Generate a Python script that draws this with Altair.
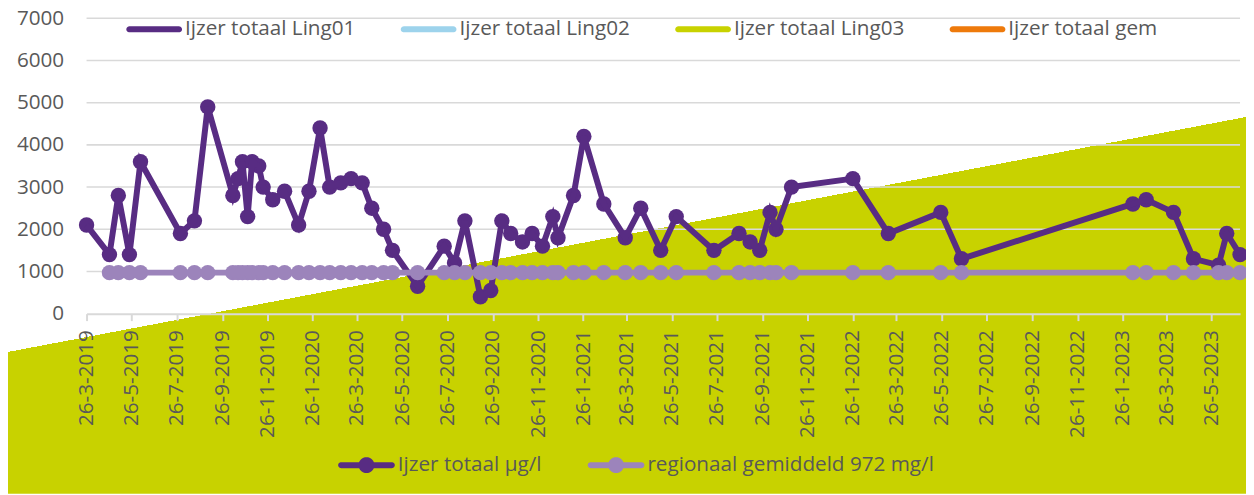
import math
import altair as alt
import pandas as pd

# ---------------- data ----------------
meet_datums = [
    "2019-03-26", "2019-04-26", "2019-05-08", "2019-05-23", "2019-06-07", "2019-07-31",
    "2019-08-19", "2019-09-06", "2019-10-10", "2019-10-17", "2019-10-23", "2019-10-30",
    "2019-11-05", "2019-11-14", "2019-11-20", "2019-12-03", "2019-12-19",
    "2020-01-07", "2020-01-21", "2020-02-05", "2020-02-18", "2020-03-04", "2020-03-18",
    "2020-04-02", "2020-04-15", "2020-05-01", "2020-05-13", "2020-06-16", "2020-07-22",
    "2020-08-05", "2020-08-19", "2020-09-09", "2020-09-23", "2020-10-08", "2020-10-20",
    "2020-11-05", "2020-11-18", "2020-12-02", "2020-12-16", "2020-12-23",
    "2021-01-13", "2021-01-27", "2021-02-23", "2021-03-24", "2021-04-14", "2021-05-11",
    "2021-06-01", "2021-07-22", "2021-08-25", "2021-09-09", "2021-09-22", "2021-10-06",
    "2021-10-14", "2021-11-04",
    "2022-01-26", "2022-03-15", "2022-05-25", "2022-06-22",
    "2023-02-09", "2023-02-27", "2023-04-05", "2023-05-02", "2023-06-05", "2023-06-16",
    "2023-07-04",
]
ijzer_totaal = [
    2100, 1400, 2800, 1400, 3600, 1900, 2200, 4900, 2800, 3200, 3600, 2300,
    3600, 3500, 3000, 2700, 2900,
    2100, 2900, 4400, 3000, 3100, 3200, 3100, 2500, 2000, 1500, 650, 1600,
    1200, 2200, 400, 550, 2200, 1900, 1700, 1900, 1600, 2300, 1800,
    2800, 4200, 2600, 1800, 2500, 1500, 2300, 1500, 1900, 1700, 1500, 2400,
    2000, 3000,
    3200, 1900, 2400, 1300,
    2600, 2700, 2400, 1300, 1150, 1900, 1400,
]
regio_datums = meet_datums[1:]
regio_gemiddeld = [972] * len(regio_datums)

reeks_namen = ["Ijzer totaal µg/l", "regionaal gemiddeld 972 mg/l"]
top_reeksen = ["Ijzer totaal Ling01", "Ijzer totaal Ling02", "Ijzer totaal Ling03", "Ijzer totaal gem"]

x_tick_datums = [
    "2019-03-26", "2019-05-26", "2019-07-26", "2019-09-26", "2019-11-26",
    "2020-01-26", "2020-03-26", "2020-05-26", "2020-07-26", "2020-09-26", "2020-11-26",
    "2021-01-26", "2021-03-26", "2021-05-26", "2021-07-26", "2021-09-26", "2021-11-26",
    "2022-01-26", "2022-03-26", "2022-05-26", "2022-07-26", "2022-09-26", "2022-11-26",
    "2023-01-26", "2023-03-26", "2023-05-26",
]
x_bereik = ["2019-03-26", "2023-07-04"]
y_ticks = [0, 1000, 2000, 3000, 4000, 5000, 6000, 7000]
grid_waarden = [1000, 2000, 3000, 4000, 5000, 6000, 7000]

# ---------------- style ----------------
FONT = "Open Sans"
FS = 20.8
TXT = "#595959"
PURPLE = "#582C83"
LILAC = "#9C84BB"
GREEN = "#C8D200"
GRIDC = "#D9D9D9"
top_kleuren = [PURPLE, "#9DD3EC", GREEN, "#EE7A0B"]
reeks_kleuren = [PURPLE, LILAC]

W, H = 1160, 297
PAD = {"left": 79, "top": 9, "right": 6, "bottom": 181}


def dt(s):
    y, m, d = (int(p) for p in s.split("-"))
    return alt.DateTime(year=y, month=m, date=d, utc=True)


def legend_symbol(h, rho=0.0, n=16):
    """Unit-space SVG path: a rounded bar from -1 to 1 (half thickness h),
    optionally with a filled circle of radius rho in the middle."""
    pts = []
    for i in range(n + 1):
        t = -math.pi / 2 + math.pi * i / n
        pts.append((1 - h + h * math.cos(t), h * math.sin(t)))
    for i in range(n + 1):
        t = math.pi / 2 + math.pi * i / n
        pts.append((-1 + h + h * math.cos(t), h * math.sin(t)))
    path = "M" + "L".join(f"{x:.4f},{y:.4f}" for x, y in pts) + "Z"
    if rho > 0:
        cpts = []
        m = 2 * n
        for i in range(m):
            t = 2 * math.pi * i / m
            cpts.append((rho * math.cos(t), rho * math.sin(t)))
        path += "M" + "L".join(f"{x:.4f},{y:.4f}" for x, y in cpts) + "Z"
    return path


x_scale = alt.Scale(type="utc", domain=[dt(s) for s in x_bereik], nice=False)
y_scale = alt.Scale(domain=[y_ticks[0], y_ticks[-1]], nice=False)

x_axis = alt.Axis(
    values=[dt(s) for s in x_tick_datums],
    labelExpr="utcFormat(datum.value, '%-d-%-m-%Y')",
    labelAngle=270, labelFont=FONT, labelFontSize=FS, labelColor=TXT,
    labelPadding=9, labelOverlap=False, labelFlush=False,
    domainColor=GRIDC, domainWidth=2, tickColor=GRIDC, tickWidth=2, tickSize=7,
    grid=False, title=None, zindex=1,
)
y_axis = alt.Axis(
    values=y_ticks, format="d", labelFont=FONT, labelFontSize=FS, labelColor=TXT,
    labelPadding=23, ticks=False, tickSize=0, domain=False, grid=False,
    title=None, zindex=1,
)

common_legend = dict(
    title=None, orient="none", direction="horizontal", labelLimit=600,
    labelFont=FONT, labelFontSize=FS, labelColor=TXT, padding=0,
    symbolOffset=0, symbolStrokeWidth=0, labelOffset=3, zindex=1,
)
top_legend = alt.Legend(
    legendX=40, legendY=-17, columns=4, gridAlign="all", columnPadding=45,
    symbolType=legend_symbol(3 / 28), symbolSize=56 * 56, **common_legend,
)
bottom_legend = alt.Legend(
    legendX=253, legendY=420.5, columns=2, columnPadding=46,
    symbolType=legend_symbol(3 / 28.5, 8 / 28.5), symbolSize=57 * 57,
    **common_legend,
)

meet_df = pd.DataFrame({"datum": meet_datums, "waarde": ijzer_totaal, "reeks": reeks_namen[0]})
regio_df = pd.DataFrame({"datum": regio_datums, "waarde": regio_gemiddeld, "reeks": reeks_namen[1]})
dummy_df = pd.DataFrame({"datum": [None] * 4, "waarde": [None] * 4, "locatie": top_reeksen})

X = alt.X("datum:T", scale=x_scale, axis=x_axis)
Y = alt.Y("waarde:Q", scale=y_scale, axis=y_axis)
C = alt.Color("reeks:N", scale=alt.Scale(domain=reeks_namen, range=reeks_kleuren), legend=bottom_legend)

# decorative diagonal green background (gradient with a hard stop)
bg = alt.Chart(pd.DataFrame({"bg": [0]})).mark_rect(
    fill=alt.LinearGradient(
        gradient="linear", x1=0.2572, y1=-0.0354, x2=0.7428, y2=0.9646,
        stops=[
            alt.GradientStop(color="#FFFFFF", offset=0),
            alt.GradientStop(color="#FFFFFF", offset=0.5),
            alt.GradientStop(color=GREEN, offset=0.5),
            alt.GradientStop(color=GREEN, offset=1),
        ],
    )
).encode(
    x=alt.value(-PAD["left"]), x2=alt.value(W + PAD["right"] + 1),
    y=alt.value(-PAD["top"]), y2=alt.value(H + PAD["bottom"]),
)

grid = alt.Chart(pd.DataFrame({"waarde": grid_waarden})).mark_rule(
    color=GRIDC, strokeWidth=1.6
).encode(y=Y)

dummy = alt.Chart(dummy_df).mark_circle(size=240, opacity=1).encode(
    x=X, y=Y,
    fill=alt.Fill("locatie:N", scale=alt.Scale(domain=top_reeksen, range=top_kleuren), legend=top_legend),
)

meet_pts = alt.Chart(meet_df).mark_circle(size=240, opacity=1).encode(x=X, y=Y, color=C)
meet_line = alt.Chart(meet_df).mark_line(strokeWidth=6, color=PURPLE).encode(x=X, y=Y)
regio_pts = alt.Chart(regio_df).mark_circle(size=240, opacity=1).encode(x=X, y=Y, color=C)
regio_line = alt.Chart(regio_df).mark_line(strokeWidth=6, color=LILAC).encode(x=X, y=Y)

chart = alt.layer(bg, grid, dummy, meet_pts, meet_line, regio_pts, regio_line).properties(
    width=W, height=H, padding=PAD, autosize=alt.AutoSizeParams(type="none"),
).configure_view(strokeWidth=0)

chart.save("out.html", embed_options={"renderer": "svg", "actions": False})
